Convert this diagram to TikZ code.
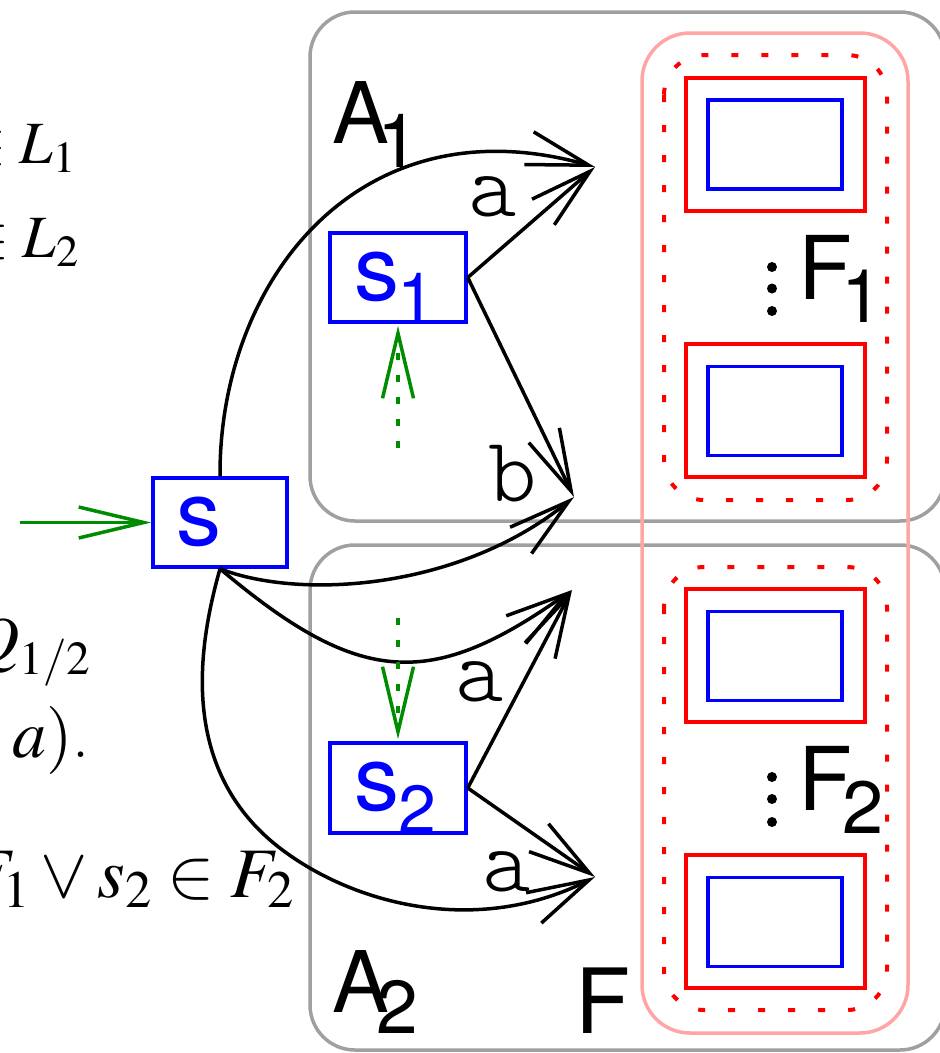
\documentclass[tikz,border=0pt]{standalone}
\usepackage{mathptmx}
\usepackage[no-math]{fontspec}
\usetikzlibrary{arrows.meta}
\newfontfamily\hv{TeX Gyre Heros}
\newfontfamily\cour{lmmonolt10-regular}[Extension=.otf]
\definecolor{grn}{RGB}{0,140,0}
\definecolor{pinkline}{RGB}{255,165,165}
\definecolor{grayline}{RGB}{160,160,160}
\begin{document}
\begin{tikzpicture}[x=1pt,y=-1pt,
  graybox/.style={draw=grayline,line width=3.5pt,rounded corners=45pt},
  pinkbox/.style={draw=pinkline,line width=3.5pt,rounded corners=48pt},
  dotbox/.style={draw=red,line width=4pt,dash pattern=on 7pt off 23pt,rounded corners=40pt},
  redbox/.style={draw=red,line width=4pt,minimum width=179pt,minimum height=133pt,inner sep=0pt},
  bluebox/.style={draw=blue,line width=3.5pt,minimum width=134pt,minimum height=89pt,inner sep=0pt},
  arr/.style={line width=3.5pt,-{Straight Barb[length=62pt,width=34pt]}},
  garr/.style={draw=grn,line width=3.5pt,-{Straight Barb[length=65pt,width=31pt]}},
  gdot/.style={garr,dash pattern=on 7pt off 15pt},
  lab/.style={inner sep=0pt,font=\cour\fontsize{92}{92}\selectfont},
  big/.style={anchor=base west,inner sep=0pt,font=\hv\fontsize{88}{88}\selectfont},
  sub/.style={anchor=base west,inner sep=0pt,font=\hv\fontsize{75}{75}\selectfont},
  sname/.style={anchor=base west,inner sep=0pt,text=blue,font=\hv\fontsize{90}{90}\selectfont},
  ssub/.style={anchor=base west,inner sep=0pt,text=blue,font=\hv\fontsize{68}{68}\selectfont},
  frag/.style={anchor=base east,inner sep=0pt}
]
\useasboundingbox (0,0) rectangle (940,1053);
\clip (0,0) rectangle (940,1053);

% text fragments at the left
\node[frag,font=\fontsize{60}{70}\selectfont] (t1) at (76,163) {$\in L_1$};
\node[frag,font=\fontsize{60}{70}\selectfont] (t2) at (79,257) {$\in L_2$};
\node[frag,font=\fontsize{64}{70}\selectfont] (t3) at (91,661) {$Q_{1/2}$};
\node[frag,font=\fontsize{68}{70}\selectfont] (t4) at (90,757) {$,a)$.};
\node[frag,font=\fontsize{71}{70}\selectfont] (t5) at (294,897) {$F_1\vee s_2\in F_2$};

% containers
\draw[graybox] (310,12) rectangle (945,521);
\draw[graybox] (310,545) rectangle (945,1050);
\draw[pinkbox] (642,33) rectangle (908,1033);
\draw[dotbox] (664,55) rectangle (887,500);
\draw[dotbox] (664,567) rectangle (887,1010);

% final states
\node[redbox] (f1a) at (775.5,144.5) {};
\node[bluebox] (g1a) at (775,144.5) {};
\node[redbox] (f1b) at (775.5,410.5) {};
\node[bluebox] (g1b) at (775,411) {};
\node[redbox] (f2a) at (775.5,655.5) {};
\node[bluebox] (g2a) at (775,656) {};
\node[redbox] (f2b) at (775.5,921.5) {};
\node[bluebox] (g2b) at (775,922) {};

% dots
\fill (772,267) circle (5);
\fill (772,288.5) circle (5);
\fill (772,311) circle (5);
\fill (772,777) circle (5);
\fill (772,799) circle (5);
\fill (772,822) circle (5);

% labels
\node[big,font=\hv\fontsize{85}{85}\selectfont] (A1) at (332,143) {A};
\node[sub] (A1s) at (377,167) {1};
\node[big,font=\hv\fontsize{85}{85}\selectfont] (A2) at (332,1012) {A};
\node[sub] (A2s) at (376,1033) {2};
\node[big,font=\hv\fontsize{90}{90}\selectfont] (Fl) at (575,1033) {F};
\node[big] (F1) at (798,299) {F};
\node[sub,font=\hv\fontsize{74}{74}\selectfont] (F1s) at (841,322) {1};
\node[big] (F2) at (798,810) {F};
\node[sub,font=\hv\fontsize{74}{74}\selectfont] (F2s) at (842,833) {2};

% states
\node[bluebox] (s) at (220,522.5) {};
\node[bluebox,minimum width=136pt] (s1) at (398,277.5) {};
\node[bluebox,minimum width=136pt,minimum height=90pt] (s2) at (398,788) {};
\node[sname] (sl) at (176,545) {s};
\node[sname] (s1l) at (354,300) {s};
\node[ssub] (s1s) at (397,321) {1};
\node[sname] (s2l) at (354,810) {s};
\node[ssub] (s2s) at (398,833) {2};

% targets
\coordinate (T1) at (595,167);
\coordinate (T2) at (574,497);
\coordinate (T3) at (572,590);
\coordinate (T4) at (595,877);
\coordinate (G0) at (20,522.5);
\coordinate (G1) at (398,448);
\coordinate (G2) at (398,618);

% transitions
\draw[arr] (s.north) .. controls (219,280) and (360,100) .. (T1);
\draw[arr] (s.south) .. controls (300,600) and (460,590) .. (T2);
\draw[arr] (s.south) .. controls (360,687) and (431,690) .. (T3);
\draw[arr] (s.south) .. controls (200,640) and (178,760) .. (270,840)
                     .. controls (340,900) and (470,940) .. (T4);
\draw[arr] (s1.east) -- (T1);
\draw[arr] (s1.east) -- (T2);
\draw[arr] (s2.east) -- (T3);
\draw[arr] (s2.east) -- (T4);
\node[lab] (la1) at (493,197) {a};
\node[lab] (lb1) at (513,474) {b};
\node[lab] (la2) at (480,682) {a};
\node[lab] (la3) at (507,872) {a};

% green arrows
\draw[garr] (G0) -- (s.west);
\draw[gdot] (G1) -- ([yshift=-2pt]s1.south);
\draw[gdot] (G2) -- ([yshift=2pt]s2.north);
\end{tikzpicture}
\end{document}
